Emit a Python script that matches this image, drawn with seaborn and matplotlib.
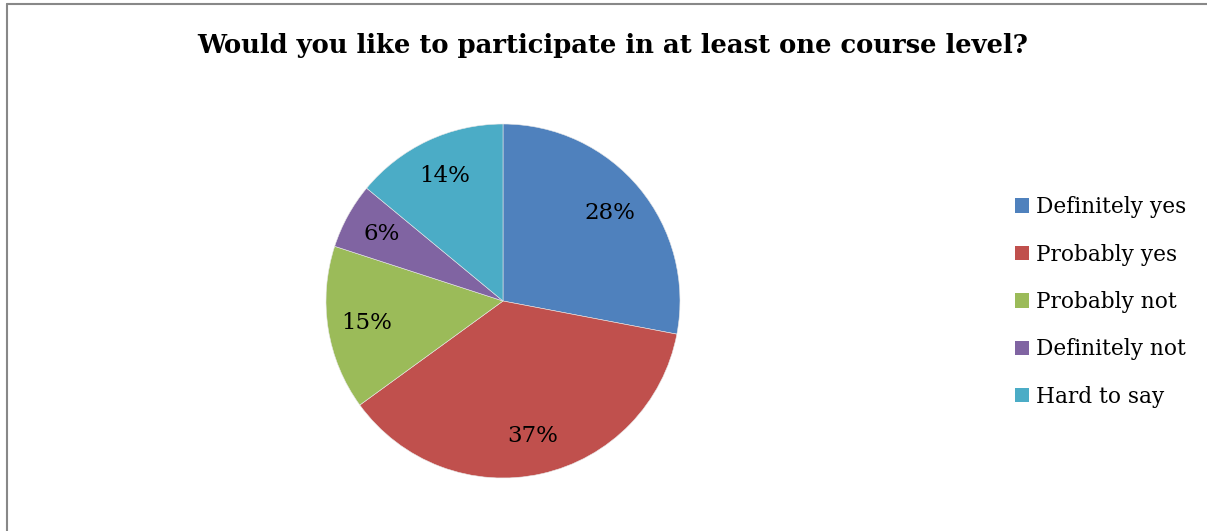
import matplotlib
matplotlib.use("Agg")
import matplotlib.pyplot as plt
from matplotlib.patches import Patch
from matplotlib.lines import Line2D
import seaborn as sns

# Survey answers and their shares (%)
categories = ["Definitely yes", "Probably yes", "Probably not", "Definitely not", "Hard to say"]
shares = [28, 37, 15, 6, 14]
colors = ["#4F81BD", "#C0504D", "#9BBB59", "#8064A2", "#4BACC6"]
title = "Would you like to participate in at least one course level?"

sns.set_theme(style="white")
plt.rcParams["font.family"] = ["DejaVu Serif"]

W, H = 1207, 531
fig = plt.figure(figsize=(W / 100, H / 100), dpi=100)
fig.patch.set_facecolor("white")

# pie area: centre (503, 301) px, radius 177 px
cx, cy, r = 503, 301, 177
ax = fig.add_axes([(cx - r) / W, (H - cy - r) / H, 2 * r / W, 2 * r / H])
palette = sns.color_palette(colors)
wedges, texts, autotexts = ax.pie(
    shares, colors=palette, startangle=90, counterclock=False,
    autopct=lambda p: f"{p:.0f}%", pctdistance=0.78,
    wedgeprops=dict(edgecolor="#E8E8E8", linewidth=0.4),
    textprops=dict(fontsize=16.5, color="black"),
)
ax.set_xlim(-1, 1)
ax.set_ylim(-1, 1)
ax.set_aspect("equal")
ax.axis("off")

fig.text(613 / W, 1 - 45 / H, title, ha="center", va="center",
         fontsize=18.6, fontweight="bold", color="black")

handles = [Patch(facecolor=c, edgecolor="none") for c in palette]
fig.legend(handles, categories, loc="center left",
           bbox_to_anchor=(1006 / W, 1 - 302 / H), frameon=False,
           fontsize=15.6, labelcolor="black",
           handlelength=0.65, handleheight=0.65,
           handletextpad=0.35, labelspacing=1.17, borderaxespad=0)

# chart frame edges
fig.add_artist(Line2D([6.5 / W, 6.5 / W], [0, 1 - 4 / H], transform=fig.transFigure,
                      color="#888888", linewidth=1.5))
fig.add_artist(Line2D([6.5 / W, 1], [1 - 4 / H, 1 - 4 / H], transform=fig.transFigure,
                      color="#888888", linewidth=1.5))

fig.savefig("out.png", dpi=100, facecolor="white")
